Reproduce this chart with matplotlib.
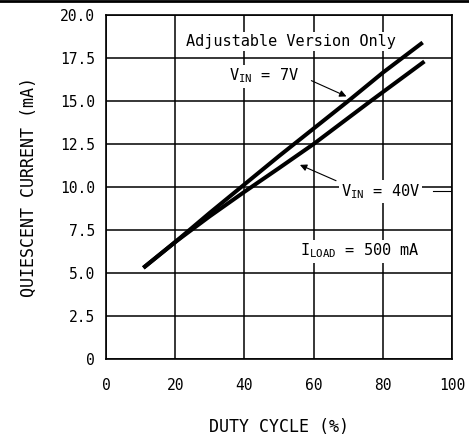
import matplotlib.pyplot as plt
from matplotlib.lines import Line2D

plt.rcParams['font.family'] = ['DejaVu Sans Mono', 'DejaVu Sans']
plt.rcParams['mathtext.fontset'] = 'custom'
plt.rcParams['mathtext.rm'] = 'DejaVu Sans Mono'

# duty cycle (%) vs quiescent current (mA)
duty_7v = [10.8, 20, 30, 40, 50, 60, 70, 80, 91.5]
iq_7v = [5.3, 6.8, 8.5, 10.15, 11.8, 13.4, 15.0, 16.65, 18.4]
duty_40v = [10.8, 20, 30, 40, 50, 60, 76.5, 92]
iq_40v = [5.3, 6.8, 8.3, 9.72, 11.1, 12.5, 15.0, 17.3]

x_ticks = [0, 20, 40, 60, 80, 100]
y_ticks = [0, 2.5, 5.0, 7.5, 10.0, 12.5, 15.0, 17.5, 20.0]
y_tick_labels = ['0', '2.5', '5.0', '7.5', '10.0', '12.5', '15.0', '17.5', '20.0']

fig = plt.figure(figsize=(4.69, 4.41), dpi=100)
ax = fig.add_axes([0.226, 0.186, 0.738, 0.780])

ax.plot(duty_7v, iq_7v, color='black', lw=2.9, solid_capstyle='butt', zorder=3)
ax.plot(duty_40v, iq_40v, color='black', lw=2.9, solid_capstyle='butt', zorder=3)

ax.set_xlim(0, 100)
ax.set_ylim(0, 20)
ax.set_xticks(x_ticks)
ax.set_yticks(y_ticks)
ax.set_yticklabels(y_tick_labels)
ax.tick_params(length=0, labelsize=10.5)
ax.tick_params(axis='x', pad=14)
ax.tick_params(axis='y', pad=8)
ax.grid(True, color='black', lw=1.1)
ax.set_axisbelow(True)
for s in ax.spines.values():
    s.set_linewidth(1.2)

ax.set_xlabel('DUTY CYCLE (%)', fontsize=12, labelpad=18)
ax.set_ylabel('QUIESCENT CURRENT (mA)', fontsize=12, labelpad=16)

box = dict(facecolor='white', edgecolor='none', pad=1.5)
ax.text(53.5, 18.45, 'Adjustable Version Only', fontsize=11, ha='center',
        va='center', bbox=box, zorder=2)
ax.text(35.4, 16.45, r'V$_{\mathregular{IN}}$ = 7V', fontsize=11, ha='left',
        va='center', bbox=box, zorder=2)
ax.annotate('', xy=(70.2, 15.2), xytext=(58.6, 16.25),
            arrowprops=dict(arrowstyle='-|>', color='black', lw=0.8,
                            mutation_scale=10), zorder=4)
ax.text(67.8, 9.75, r'V$_{\mathregular{IN}}$ = 40V', fontsize=11, ha='left',
        va='center', bbox=box, zorder=2)
ax.plot([94.5, 100], [9.75, 9.75], color='black', lw=0.8, zorder=2)
ax.annotate('', xy=(55.3, 11.35), xytext=(67.2, 10.3),
            arrowprops=dict(arrowstyle='-|>', color='black', lw=0.8,
                            mutation_scale=10), zorder=4)
ax.text(73.4, 6.27, r'I$_{\mathregular{LOAD}}$ = 500 mA', fontsize=11,
        ha='center', va='center', bbox=box, zorder=2)

fig.add_artist(Line2D([0, 1], [0.997, 0.997], color='black', lw=2,
                      transform=fig.transFigure))

fig.savefig('out.png', dpi=100)
